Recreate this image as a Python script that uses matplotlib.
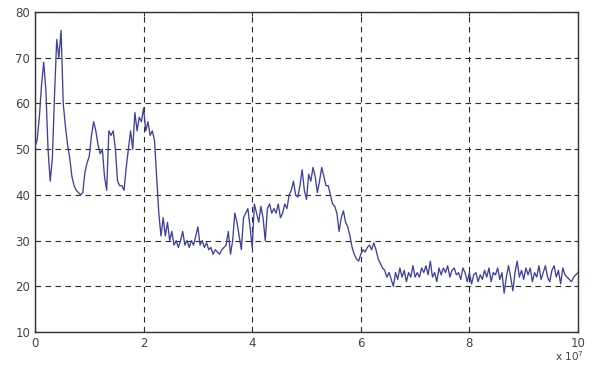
import matplotlib
matplotlib.use("Agg")
import matplotlib.pyplot as plt
import numpy as np

y_vals = [
    # 0.00 - 0.96
    50.5, 52, 57, 64, 69, 63, 50, 43, 48, 62, 74, 70, 76, 60, 55, 51, 48, 44, 42, 41, 40.5, 40, 40.5, 45, 47,
    # 1.00 - 1.96
    48.5, 53, 56, 54, 51, 49, 50, 44, 41, 54, 53, 54, 50, 43, 42, 42, 41, 46, 50, 54, 50, 58, 54, 57, 56,
    # 2.00 - 2.96
    59, 54, 56, 53, 54, 52, 44, 36, 31, 35, 31, 34, 30, 32, 29, 30, 28.5, 30, 32, 29, 30, 28.5, 30, 29, 31,
    # 3.00 - 3.96
    33, 29, 30, 28.5, 29.5, 28, 28.5, 27, 28, 27.5, 27, 28, 28.5, 29, 32, 27, 30, 36, 34, 31, 28, 35, 36, 37, 33,
    # 4.00 - 4.96
    28.5, 38, 36, 34, 37.5, 35, 30, 37, 38, 36, 37, 36, 38, 35, 36, 38, 37, 40, 41, 43, 40, 39.5, 42, 45.5, 41,
    # 5.00 - 5.96
    39, 44.5, 43, 46, 44, 40.5, 43, 46, 44, 42, 42, 40, 38, 37.5, 36, 32, 35, 36.5, 34, 33, 31, 28.5, 27, 26, 25.5,
    # 6.00 - 6.96
    27, 28, 27.5, 28.5, 29, 28, 29.5, 28, 26, 25, 24, 23.5, 22, 23, 21.5, 20, 23, 21.5, 24, 22, 23.5, 21, 23, 22, 24.5,
    # 7.00 - 7.96
    22, 23, 22, 24, 23, 24.5, 22.5, 25.5, 22, 23, 21, 24, 22.5, 24, 23, 24.5, 22, 23.5, 24, 22.5, 23, 21.5, 24, 23, 21,
    # 8.00 - 8.96
    23, 20.5, 22.5, 23, 21, 22.5, 21.5, 23.5, 22, 24, 21, 23, 22.5, 24, 21.5, 23, 18.5, 22, 24.5, 22, 19, 23, 25.5, 22, 23.5,
    # 9.00 - 9.96
    21.5, 24, 22.5, 24, 21, 23, 22, 24.5, 21.5, 23, 24.5, 22, 21, 23.5, 24.5, 22, 23.5, 20.5, 24, 22.5, 22, 21.5, 21, 22, 22.5,
    # 10.00
    23,
]
x_vals = np.linspace(0, 10, len(y_vals))

x_ticks = [0, 2, 4, 6, 8, 10]
y_ticks = [10, 20, 30, 40, 50, 60, 70, 80]

LINE_COLOR = "#40409f"
AX_COLOR = "#333333"

fig = plt.figure(figsize=(5.95, 3.71), dpi=100)
ax = fig.add_axes([35 / 595, 1 - 332 / 371, (578 - 35) / 595, (332 - 12) / 371])

ax.plot(x_vals, y_vals, color=LINE_COLOR, linewidth=0.95, zorder=3)

ax.set_xlim(0, 10)
ax.set_ylim(10, 80)
ax.set_xticks(x_ticks)
ax.set_yticks(y_ticks)
ax.grid(True, color="#2a2a2a", linestyle=(0, (5, 4)), linewidth=0.8)

for spine in ax.spines.values():
    spine.set_color(AX_COLOR)
    spine.set_linewidth(1.0)
ax.tick_params(direction="in", length=3, width=0.8, colors=AX_COLOR,
               labelsize=8.5, top=True, right=True, labeltop=False, labelright=False)
for t in ax.get_xticklabels() + ax.get_yticklabels():
    t.set_color("#444444")

fig.text(555 / 595, 1 - 356 / 371, r"x 10$^{7}$", fontsize=7.5, color="#444444",
         ha="left", va="center")

fig.savefig("out.png", dpi=100)
